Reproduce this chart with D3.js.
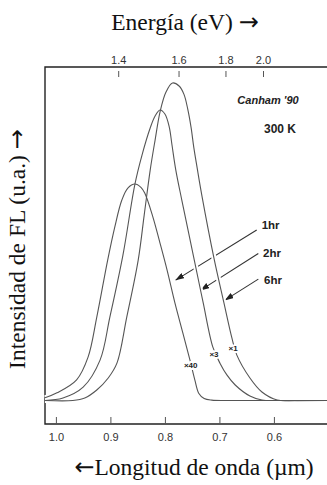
<!DOCTYPE html>
<html>
<head>
<meta charset="utf-8">
<style>
body { margin: 0; background: #fff; }
svg { display: block; }
.axis text { font-family: "Liberation Sans", Arial, sans-serif; font-size: 11px; fill: #333; }
.axis line { stroke: #555; stroke-width: 1px; }
.axis path { display: none; }
.frame { stroke: #222; stroke-width: 1.4px; fill: none; }
.spec { fill: none; stroke: #555; stroke-width: 1.1px; }
.halo { fill: none; stroke: #fff; stroke-width: 5px; }
.arrow { stroke: #333; stroke-width: 1.1px; fill: none; }
.title { font-family: "Liberation Serif", "Times New Roman", serif; font-size: 23.5px; fill: #111; }
.title .arr { font-family: "DejaVu Sans ExtraLight", "DejaVu Sans", sans-serif; font-size: 24px; }
.note { font-family: "Liberation Sans", Arial, sans-serif; font-weight: bold; fill: #222; }
</style>
</head>
<body>
<svg width="327" height="485"></svg>
<script src="https://d3js.org/d3.v7.min.js"></script>
<script>

// PL spectra: [wavelength (um), intensity (arb. units)]
var spec1hr = [
  [1.020, 0.8], [0.998, 2.3], [0.962, 6.2], [0.941, 13.0], [0.925, 25.0],
  [0.905, 42.1], [0.892, 52.0], [0.879, 60.1], [0.868, 63.7], [0.855, 64.9],
  [0.844, 63.9], [0.837, 62.2], [0.822, 55.0], [0.809, 47.2], [0.796, 39.1],
  [0.782, 29.5], [0.767, 20.2], [0.754, 12.1], [0.745, 6.1], [0.738, 2.2],
  [0.728, 0.6], [0.714, 0.1], [0.680, 0], [0.503, 0]
];
var spec2hr = [
  [1.020, 0], [0.987, 0.75], [0.950, 4.0], [0.919, 12.1], [0.901, 25.0],
  [0.877, 43.6], [0.855, 64.9], [0.842, 73.6], [0.827, 81.7], [0.818, 85.3],
  [0.809, 87.1], [0.800, 85.9], [0.792, 82.0], [0.787, 76.6], [0.780, 69.1],
  [0.769, 60.1], [0.748, 43.6], [0.730, 29.5], [0.712, 16.0], [0.699, 11.2],
  [0.686, 7.6], [0.671, 4.65], [0.644, 1.35], [0.622, 0.15], [0.589, 0], [0.503, 0]
];
var spec6hr = [
  [1.020, 0], [0.969, 0], [0.947, 0.75], [0.925, 3.15], [0.904, 6.75],
  [0.888, 11.2], [0.870, 25.0], [0.849, 42.1], [0.838, 55.6], [0.827, 69.1],
  [0.818, 78.1], [0.809, 86.5], [0.798, 92.5], [0.786, 95.2], [0.774, 94.3],
  [0.765, 91.8], [0.758, 87.3], [0.752, 81.9], [0.747, 75.9], [0.741, 69.9],
  [0.732, 61.3], [0.710, 42.7], [0.692, 29.5], [0.677, 18.7], [0.668, 13.6],
  [0.644, 6.75], [0.622, 2.55], [0.594, 0.15], [0.561, 0], [0.503, 0]
];
var spectra = [spec1hr, spec2hr, spec6hr];
var hours = ["1hr", "2hr", "6hr"];
var factors = ["\u00d740", "\u00d73", "\u00d71"];

// tick labels
var wlTicks = [1.0, 0.9, 0.8, 0.7, 0.6];
var eTicks = [1.4, 1.6, 1.8, 2.0];

// annotation placement, in data units [wavelength, intensity]
var arrowFrom = [[0.6316, 51.1], [0.6286, 44.1], [0.6286, 36.4]];
var arrowTo = [[0.7802, 36.1], [0.7343, 33.1], [0.6897, 30.1]];
var hourAt = [[0.6224, 52.6], [0.6200, 44.3], [0.6182, 36.1]];
var factorAt = [[0.7527, 10.6], [0.7099, 13.9], [0.6750, 15.7]];

var svg = d3.select("svg"),
    margin = {top: 67, right: 0, bottom: 61, left: 45},
    width = +svg.attr("width") - margin.left - margin.right,
    height = +svg.attr("height") - margin.top - margin.bottom;

var g = svg.append("g")
    .attr("transform", "translate(" + margin.left + "," + margin.top + ")");

var x = d3.scaleLinear().domain([1.02, 0.5026]).range([0, width]);
var y = d3.scaleLinear().domain([0, 100]).range([333.5, 0]);

// frame, open on the right
g.append("path")
    .attr("class", "frame")
    .attr("d", "M" + width + ",0H0V" + height + "H" + width);

// bottom axis: wavelength
g.append("g")
    .attr("class", "axis")
    .attr("transform", "translate(0," + height + ")")
    .call(d3.axisBottom(x)
        .tickValues(wlTicks)
        .tickFormat(d3.format(".1f"))
        .tickSize(-7)
        .tickPadding(9));

// top axis: photon energy, E = 1.24 / wavelength
var topAxis = g.append("g")
    .attr("class", "axis")
    .call(d3.axisTop(x)
        .tickValues(eTicks.map(function(e) { return 1.24 / e; }))
        .tickFormat(function(l) { return d3.format(".1f")(1.24 / l); })
        .tickSize(0)
        .tickPadding(3));
topAxis.selectAll(".tick line").attr("y1", 4).attr("y2", 10);

// arrows
var defs = svg.append("defs");
defs.append("marker")
    .attr("id", "head")
    .attr("markerUnits", "userSpaceOnUse")
    .attr("viewBox", "0 0 9 6")
    .attr("refX", 8.5).attr("refY", 3)
    .attr("markerWidth", 9).attr("markerHeight", 6)
    .attr("orient", "auto")
  .append("path")
    .attr("d", "M0,0L9,3L0,6Z")
    .attr("fill", "#222");

g.selectAll(".arrow")
    .data(hours)
  .enter().append("line")
    .attr("class", "arrow")
    .attr("x1", function(d, i) { return x(arrowFrom[i][0]); })
    .attr("y1", function(d, i) { return y(arrowFrom[i][1]); })
    .attr("x2", function(d, i) { return x(arrowTo[i][0]); })
    .attr("y2", function(d, i) { return y(arrowTo[i][1]); })
    .attr("marker-end", "url(#head)");

g.selectAll(".hour")
    .data(hours)
  .enter().append("text")
    .attr("class", "note hour")
    .attr("x", function(d, i) { return x(hourAt[i][0]); })
    .attr("y", function(d, i) { return y(hourAt[i][1]); })
    .attr("dy", "0.35em")
    .style("font-size", "11.5px")
    .text(function(d) { return d; });

// spectra: white halos first so the arrows break where curves cross them
var line = d3.line()
    .x(function(d) { return x(d[0]); })
    .y(function(d) { return y(d[1]); })
    .curve(d3.curveCatmullRom.alpha(0.5));

g.selectAll(".halo")
    .data(spectra)
  .enter().append("path")
    .attr("class", "halo")
    .attr("d", line);

g.selectAll(".spec")
    .data(spectra)
  .enter().append("path")
    .attr("class", "spec")
    .attr("d", line);

// scale factors sitting on the curves
g.selectAll(".factor")
    .data(factors)
  .enter().append("text")
    .attr("class", "note factor")
    .attr("x", function(d, i) { return x(factorAt[i][0]); })
    .attr("y", function(d, i) { return y(factorAt[i][1]); })
    .attr("dy", "0.35em")
    .attr("text-anchor", "middle")
    .style("font-size", "8px")
    .style("paint-order", "stroke")
    .style("stroke", "#fff")
    .style("stroke-width", "4px")
    .text(function(d) { return d; });

g.append("text")
    .attr("class", "note")
    .attr("x", x(0.6108)).attr("y", y(90.1))
    .attr("dy", "0.35em")
    .attr("text-anchor", "middle")
    .style("font-size", "11px")
    .style("font-style", "italic")
    .text("Canham '90");

g.append("text")
    .attr("class", "note")
    .attr("x", x(0.5888)).attr("y", y(81.6))
    .attr("dy", "0.35em")
    .attr("text-anchor", "middle")
    .style("font-size", "12px")
    .text("300 K");

// axis titles
var topTitle = svg.append("text")
    .attr("class", "title")
    .attr("x", 185).attr("y", 30)
    .attr("text-anchor", "middle");
topTitle.append("tspan").text("Energía (eV) ");
topTitle.append("tspan").attr("class", "arr").text("\u2192");

var bottomTitle = svg.append("text")
    .attr("class", "title")
    .attr("x", 194).attr("y", 475)
    .attr("text-anchor", "middle");
bottomTitle.append("tspan").attr("class", "arr").text("\u2190");
bottomTitle.append("tspan").text("Longitud de onda (\u00b5m)");

var sideTitle = svg.append("text")
    .attr("class", "title")
    .attr("transform", "translate(25,249) rotate(-90)")
    .attr("text-anchor", "middle");
sideTitle.append("tspan").text("Intensidad de FL (u.a.) ");
sideTitle.append("tspan").attr("class", "arr").text("\u2192");

</script>
</body>
</html>
